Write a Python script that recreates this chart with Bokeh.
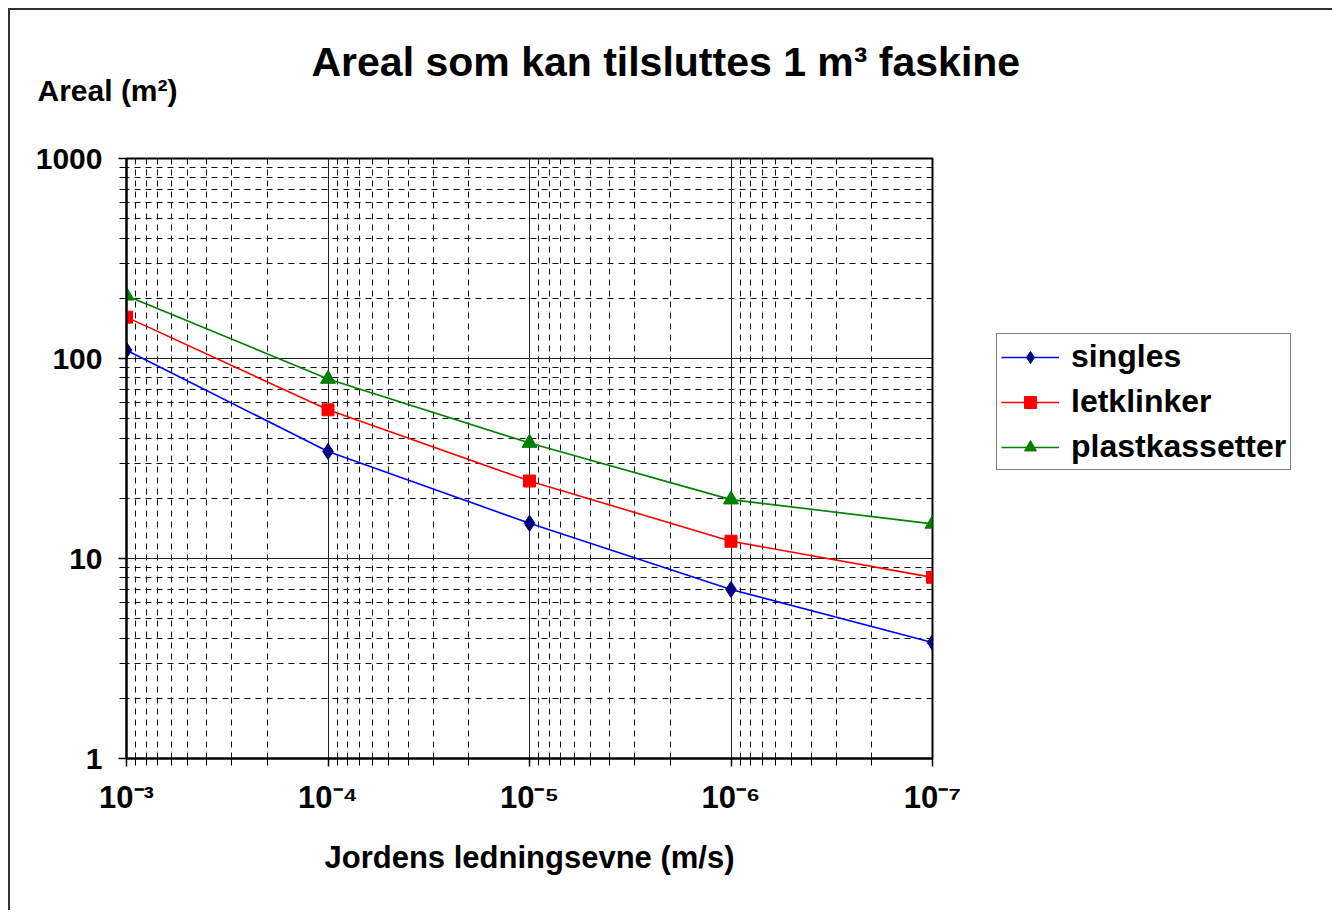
from bokeh.plotting import figure
from bokeh.models import (Range1d, FixedTicker, Legend, LegendItem, Title,
                          InlineStyleSheet)
from bokeh.embed import file_html
from bokeh.resources import INLINE

# ---------------- data ----------------
conductivity = [1e-3, 1e-4, 1e-5, 1e-6, 1e-7]
singles = [110, 34.3, 15.0, 7.0, 3.8]
letklinker = [161, 55.4, 24.4, 12.2, 8.05]
plastkassetter = [206, 79, 37.8, 19.7, 14.9]

series_names = ["singles", "letklinker", "plastkassetter"]
x_tick_values = [1e-3, 1e-4, 1e-5, 1e-6, 1e-7]
x_tick_labels = ["10⁻³", "10⁻⁴", "10⁻⁵", "10⁻⁶", "10⁻⁷"]
y_tick_values = [1, 10, 100, 1000]
y_tick_labels = ["1", "10", "100", "1000"]

title_text = "Areal som kan tilsluttes 1 m³ faskine"
y_label_text = "Areal (m²)"
x_label_text = "Jordens ledningsevne (m/s)"

FONT = "Liberation Sans"

# minor ticks for each decade (2..9)
def minors(lo_exp, hi_exp):
    out = []
    for k in range(lo_exp, hi_exp):
        for m in range(2, 10):
            out.append(m * 10.0 ** k)
    return out

p = figure(frame_width=806, frame_height=600, x_axis_type="log", y_axis_type="log",
           x_range=Range1d(1e-3, 1e-7), y_range=Range1d(1, 1000),
           output_backend="svg", toolbar_location=None,
           min_border_left=126, min_border_right=30,
           min_border_top=158, min_border_bottom=142, title=None)
p.stylesheets = [InlineStyleSheet(css="""
:host { position: relative; }
:host::after {
  content: ""; position: absolute; left: 8px; top: 8px; right: -32px; bottom: -10px;
  border-left: 2px solid #333; border-top: 2px solid #333; border-right: 2px solid #333;
  pointer-events: none; z-index: 1000;
}
""")]
p.background_fill_color = "white"
p.border_fill_color = "white"
p.outline_line_color = "black"
p.outline_line_width = 2

# axes
p.xaxis.ticker = FixedTicker(ticks=x_tick_values, minor_ticks=minors(-7, -3))
p.yaxis.ticker = FixedTicker(ticks=y_tick_values, minor_ticks=minors(0, 3))
p.xaxis.major_label_overrides = {v: l for v, l in zip(x_tick_values, x_tick_labels)}
p.yaxis.major_label_overrides = {v: l for v, l in zip(y_tick_values, y_tick_labels)}

for ax in (p.xaxis, p.yaxis):
    ax.axis_line_color = "black"
    ax.axis_line_width = 2
    ax.major_tick_line_color = "black"
    ax.major_tick_line_width = 1.5
    ax.minor_tick_line_color = "black"
    ax.minor_tick_line_width = 1
    ax.major_tick_in = 0
    ax.major_tick_out = 8
    ax.minor_tick_in = 0
    ax.minor_tick_out = 7
    ax.major_label_text_font = FONT
    ax.major_label_text_font_style = "bold"
    ax.major_label_text_color = "black"

p.xaxis.major_label_text_font_size = "31px"
p.xaxis.major_label_standoff = 13
p.yaxis.major_label_text_font_size = "30px"
p.yaxis.major_label_standoff = 16

p.xaxis.axis_label = x_label_text
p.xaxis.axis_label_text_font = FONT
p.xaxis.axis_label_text_font_style = "bold"
p.xaxis.axis_label_text_font_size = "31px"
p.xaxis.axis_label_text_color = "black"
p.xaxis.axis_label_standoff = 22

# grids
for g in (p.xgrid, p.ygrid):
    g.grid_line_color = "#222222"
    g.grid_line_width = 1
    g.minor_grid_line_color = "#111111"
    g.minor_grid_line_width = 1
    g.minor_grid_line_dash = "6 5"

# series
line_colors = ["#0000FF", "#FF0000", "#008000"]
marker_colors = ["#000080", "#FF0000", "#008000"]
markers = ["diamond", "square", "triangle"]
sizes = [16, 12, 15]
values = [singles, letklinker, plastkassetter]

items = []
for name, vals, lc, mc, mk, sz in zip(series_names, values, line_colors,
                                      marker_colors, markers, sizes):
    lr = p.line(conductivity, vals, line_color=lc, line_width=1.6)
    sr = p.scatter(conductivity, vals, marker=mk, size=sz,
                   fill_color=mc, line_color=mc)
    items.append(LegendItem(label=name, renderers=[lr, sr]))

legend = Legend(items=items, location=(64, 288))
legend.label_text_font = FONT
legend.label_text_font_style = "bold"
legend.label_text_font_size = "32px"
legend.label_text_color = "black"
legend.border_line_color = "black"
legend.border_line_width = 1
legend.glyph_width = 58
legend.glyph_height = 30
legend.label_height = 30
legend.spacing = 8
legend.padding = 4
legend.margin = 0
legend.label_standoff = 12
legend.background_fill_alpha = 1
p.add_layout(legend, "right")

# spacer (closest to frame), y label, main title
p.add_layout(Title(text=" ", text_font=FONT, text_font_size="10px",
                   standoff=39, text_color="white"), "above")
p.add_layout(Title(text=y_label_text, text_font=FONT, text_font_style="bold",
                   text_font_size="30px", align="left", offset=-89,
                   standoff=0, text_color="black"), "above")
p.add_layout(Title(text=title_text, text_font=FONT, text_font_style="bold",
                   text_font_size="41px", align="left", offset=185,
                   standoff=-26, text_color="black"), "above")

open("out.html", "w").write(file_html(p, INLINE))
